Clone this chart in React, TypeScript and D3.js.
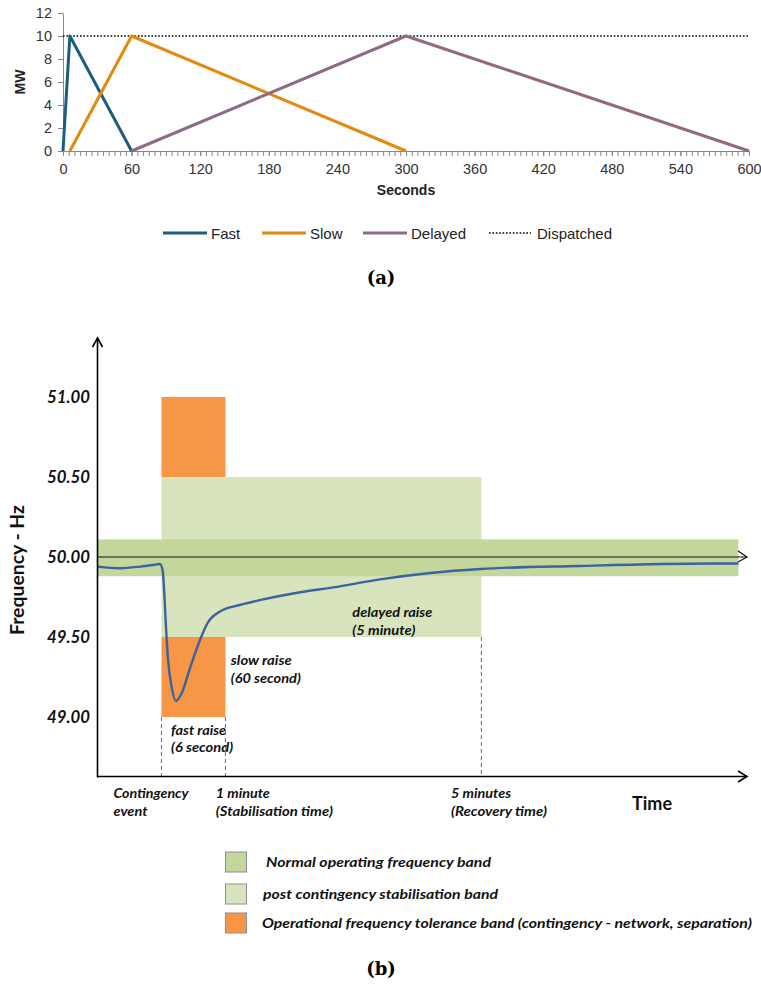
import * as d3 from "d3";
import { useEffect, useRef } from "react";

// (a) dispatch of raise services, MW against seconds
const secTicks = [0, 60, 120, 180, 240, 300, 360, 420, 480, 540, 600];
const mwTicks = [0, 2, 4, 6, 8, 10, 12];
const fastSec = [0, 6, 60];
const fastMW = [0, 10, 0];
const slowSec = [6, 60, 300];
const slowMW = [0, 10, 0];
const delayedSec = [60, 300, 600];
const delayedMW = [0, 10, 0];
const dispatchedSec = [0, 600];
const dispatchedMW = [10, 10];
const seriesNames = ["Fast", "Slow", "Delayed", "Dispatched"];

// (b) frequency after a contingency event (t = 0 at the event)
const freqTicks = [51, 50.5, 50, 49.5, 49];
const curveSec = [-60, -39, -20, -8, -1.5, 1, 2.5, 4, 6, 9.5, 13.5, 19, 27, 36, 43.5, 55, 73.5, 92, 130, 161, 205, 252, 299, 392, 517, 541];
const curveHz = [49.94, 49.93, 49.94, 49.95, 49.956, 49.92, 49.79, 49.59, 49.37, 49.19, 49.1, 49.15, 49.31, 49.48, 49.59, 49.66, 49.7, 49.73, 49.78, 49.81, 49.86, 49.9, 49.925, 49.944, 49.959, 49.959];
// bands: post contingency, normal, tolerance (upper / lower)
const bandT0 = [0, -60, 0, 0];
const bandT1 = [300, 541, 60, 60];
const bandLo = [49.5, 49.88, 50.5, 49.0];
const bandHi = [50.5, 50.11, 51.0, 49.5];
const bandKind = [1, 0, 2, 2];
const markerSec = [0, 60, 300];
const markerHz = [49, 49, 49.5];
const bandNames = [
  "Normal operating frequency band",
  "post contingency stabilisation band",
  "Operational frequency tolerance band (contingency - network, separation)",
];

const fontA = "'Liberation Sans', Arial, sans-serif";
const fontB = "Lato, 'Open Sans', sans-serif";
const seriesColors = ["#1b5c80", "#e3890f", "#8d6a85", "#000"];
const bandColors = ["#c3d69b", "#d7e4bd", "#f79646"];
const axisGrey = "#868686";

function drawA(svg: any) {
  const xA = d3.scaleLinear().domain([0, 600]).range([63, 749]);
  const yA = d3.scaleLinear().domain([0, 12]).range([151, 13]);
  const g = svg.append("g");

  // minor ticks every 5 s
  g.append("g")
    .attr("transform", "translate(0,151)")
    .call(d3.axisBottom(xA).tickValues(d3.range(0, 601, 5)).tickSize(5).tickSizeOuter(0).tickFormat(() => ""))
    .call((s: any) => s.select(".domain").attr("stroke", axisGrey))
    .call((s: any) => s.selectAll("line").attr("stroke", axisGrey));

  g.append("g")
    .attr("transform", "translate(0,151)")
    .call(d3.axisBottom(xA).tickValues(secTicks).tickSize(5).tickPadding(8).tickSizeOuter(0))
    .call((s: any) => s.select(".domain").remove())
    .call((s: any) => s.selectAll("line").attr("stroke", axisGrey))
    .call((s: any) => s.selectAll("text").attr("font-size", 14.5).attr("font-family", fontA).attr("fill", "#333"));

  g.append("g")
    .attr("transform", "translate(63,0)")
    .call(d3.axisLeft(yA).tickValues(mwTicks).tickSize(5).tickPadding(6).tickSizeOuter(0))
    .call((s: any) => s.select(".domain").attr("stroke", axisGrey))
    .call((s: any) => s.selectAll("line").attr("stroke", axisGrey))
    .call((s: any) => s.selectAll("text").attr("font-size", 14.5).attr("font-family", fontA).attr("fill", "#333"));

  g.append("text")
    .attr("x", 406).attr("y", 195)
    .attr("text-anchor", "middle")
    .attr("font-family", fontA).attr("font-weight", "bold").attr("font-size", 14)
    .attr("fill", "#222")
    .text("Seconds");

  g.append("text")
    .attr("transform", "translate(25,82) rotate(-90)")
    .attr("text-anchor", "middle")
    .attr("font-family", fontA).attr("font-weight", "bold").attr("font-size", 14)
    .attr("fill", "#222")
    .text("MW");

  const series = [
    [dispatchedSec, dispatchedMW, 3],
    [fastSec, fastMW, 0],
    [slowSec, slowMW, 1],
    [delayedSec, delayedMW, 2],
  ] as [number[], number[], number][];

  series.forEach(([secs, mws, k]) => {
    const line = d3.line<number>()
      .x((_, i) => xA(secs[i]))
      .y((d) => yA(d));
    const p = g.append("path")
      .attr("d", line(mws))
      .attr("fill", "none")
      .attr("stroke", seriesColors[k]);
    if (k === 3) p.attr("stroke-width", 1.6).attr("stroke-dasharray", "1.6,1.8");
    else p.attr("stroke-width", 3).attr("stroke-linejoin", "round");
  });

  // legend
  const legX = [163, 262, 363, 489];
  seriesNames.forEach((name, k) => {
    const lg = g.append("g").attr("transform", `translate(${legX[k]},233)`);
    lg.append("line")
      .attr("x1", 0).attr("x2", k === 3 ? 42 : 44).attr("y1", 0).attr("y2", 0)
      .attr("stroke", seriesColors[k])
      .attr("stroke-width", k === 3 ? 1.6 : 3)
      .attr("stroke-dasharray", k === 3 ? "1.6,1.8" : null);
    lg.append("text")
      .attr("x", 48).attr("y", 5.5)
      .attr("font-family", fontA).attr("font-size", 15)
      .attr("fill", "#222")
      .text(name);
  });

  svg.append("text")
    .attr("x", 381).attr("y", 284)
    .attr("text-anchor", "middle")
    .attr("font-family", "'DejaVu Serif', serif").attr("font-weight", "bold").attr("font-size", 18)
    .text("(a)");
}

function drawB(svg: any) {
  const xB = d3.scaleLinear().domain([-60, 550]).range([97.5, 748]);
  const yB = d3.scaleLinear().domain([49, 51]).range([717, 397]);
  const g = svg.append("g");
  const axisY = 776.5;

  bandKind.forEach((kind, i) => {
    g.append("rect")
      .attr("x", xB(bandT0[i]))
      .attr("y", yB(bandHi[i]))
      .attr("width", xB(bandT1[i]) - xB(bandT0[i]))
      .attr("height", yB(bandLo[i]) - yB(bandHi[i]))
      .attr("fill", bandColors[kind]);
  });

  markerSec.forEach((t, i) => {
    g.append("line")
      .attr("x1", xB(t)).attr("x2", xB(t))
      .attr("y1", yB(markerHz[i])).attr("y2", axisY)
      .attr("stroke", "#3f7fd8").attr("stroke-width", 1.1)
      .attr("stroke-dasharray", "4,3");
  });

  // 50 Hz reference line with open arrow
  g.append("line")
    .attr("x1", 97.5).attr("x2", 747).attr("y1", yB(50)).attr("y2", yB(50))
    .attr("stroke", "#111").attr("stroke-width", 1.2);
  g.append("path")
    .attr("d", `M738,${yB(50) - 6}L747,${yB(50)}L738,${yB(50) + 5}`)
    .attr("fill", "none").attr("stroke", "#111").attr("stroke-width", 1.2);

  const curve = d3.line<number>()
    .x((_, i) => xB(curveSec[i]))
    .y((d) => yB(d))
    .curve(d3.curveMonotoneX);
  g.append("path")
    .attr("d", curve(curveHz))
    .attr("fill", "none")
    .attr("stroke", "#3d62a0")
    .attr("stroke-width", 2.4);

  // axes
  g.append("line")
    .attr("x1", 97.5).attr("x2", 97.5).attr("y1", 338).attr("y2", axisY + 1)
    .attr("stroke", "#000").attr("stroke-width", 1.6);
  g.append("path")
    .attr("d", "M92.5,347L97.5,338L102.5,347")
    .attr("fill", "none").attr("stroke", "#000").attr("stroke-width", 1.6);
  g.append("line")
    .attr("x1", 97).attr("x2", 747).attr("y1", axisY).attr("y2", axisY)
    .attr("stroke", "#000").attr("stroke-width", 1.6);
  g.append("path")
    .attr("d", `M738,${axisY - 5.5}L747,${axisY}L738,${axisY + 5.5}`)
    .attr("fill", "none").attr("stroke", "#000").attr("stroke-width", 1.6);

  g.selectAll(".ftick")
    .data(freqTicks)
    .enter()
    .append("text")
    .attr("x", 90)
    .attr("y", (d: number) => yB(d) + 5.5)
    .attr("text-anchor", "end")
    .attr("font-family", fontB).attr("font-style", "italic").attr("font-weight", "bold")
    .attr("font-size", 16.5)
    .attr("textLength", 43).attr("lengthAdjust", "spacingAndGlyphs")
    .attr("fill", "#111")
    .text((d: number) => d3.format(".2f")(d));

  g.append("text")
    .attr("transform", "translate(24,570) rotate(-90)")
    .attr("text-anchor", "middle")
    .attr("font-family", fontB).attr("font-weight", "bold").attr("font-size", 18)
    .attr("textLength", 130).attr("lengthAdjust", "spacingAndGlyphs")
    .attr("fill", "#111")
    .text("Frequency - Hz");

  const label = (txt: string, x: number, y: number, w: number, size = 14) =>
    g.append("text")
      .attr("x", x).attr("y", y)
      .attr("font-family", fontB).attr("font-style", "italic").attr("font-weight", "bold")
      .attr("font-size", size)
      .attr("textLength", w).attr("lengthAdjust", "spacingAndGlyphs")
      .attr("fill", "#111")
      .text(txt);

  label("slow raise", xB(65), yB(49.325), 61);
  label("(60 second)", xB(65), yB(49.21), 70);
  label("fast raise", xB(9), yB(48.89), 55);
  label("(6 second)", xB(9), yB(48.78), 62);
  label("delayed raise", xB(179), yB(49.625), 80);
  label("(5 minute)", xB(179), yB(49.51), 63);

  label("Contingency", xB(-45), axisY + 21, 75);
  label("event", xB(-45), axisY + 39, 34);
  label("1 minute", xB(51), axisY + 21, 54);
  label("(Stabilisation time)", xB(51), axisY + 39, 117);
  label("5 minutes", xB(271.5), axisY + 21, 60);
  label("(Recovery time)", xB(271.5), axisY + 39, 96);

  g.append("text")
    .attr("x", 632).attr("y", axisY + 33)
    .attr("font-family", fontB).attr("font-weight", "bold").attr("font-size", 19)
    .attr("textLength", 40).attr("lengthAdjust", "spacingAndGlyphs")
    .attr("fill", "#111")
    .text("Time");

  // legend
  const rowY = [862, 894, 923];
  const textX = [266, 263, 262];
  const textW = [225, 235, 490];
  const swatch = [0, 1, 2];
  bandNames.forEach((name, i) => {
    g.append("rect")
      .attr("x", 225.5).attr("y", rowY[i] - 10)
      .attr("width", 21).attr("height", 20)
      .attr("fill", bandColors[swatch[i]])
      .attr("stroke", "#909090").attr("stroke-width", 1);
    label(name, textX[i], rowY[i] + 5, textW[i]);
  });

  svg.append("text")
    .attr("x", 381).attr("y", 975)
    .attr("text-anchor", "middle")
    .attr("font-family", "'DejaVu Serif', serif").attr("font-weight", "bold").attr("font-size", 18)
    .text("(b)");
}

export default function App() {
  const ref = useRef<SVGSVGElement>(null);

  useEffect(() => {
    const svg = d3.select(ref.current);
    svg.selectAll("*").remove();
    drawA(svg);
    drawB(svg);
  }, []);

  return (
    <svg
      ref={ref}
      width={761}
      height={990}
      style={{ position: "absolute", left: 0, top: 0, background: "#fff" }}
    />
  );
}
